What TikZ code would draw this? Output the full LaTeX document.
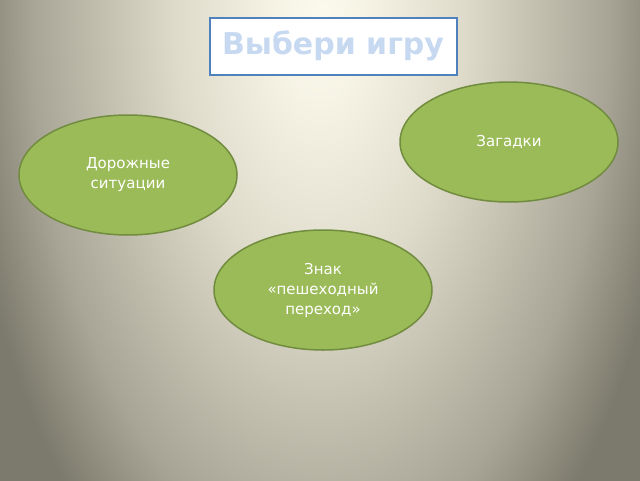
\documentclass[tikz,border=0pt]{standalone}
\usepackage{fontspec}
\setmainfont{DejaVu Sans}
\usetikzlibrary{shapes.geometric}
\definecolor{bglight}{RGB}{252, 250, 236}
\definecolor{bgpale}{RGB}{222, 219, 203}
\definecolor{bgmid}{RGB}{168, 165, 150}
\definecolor{bgdark}{RGB}{124, 122, 108}
\definecolor{gamegreen}{RGB}{155, 187, 89}
\definecolor{gameborder}{RGB}{113, 140, 62}
\definecolor{titleblue}{RGB}{79, 129, 189}
\definecolor{titletext}{RGB}{198, 217, 241}
\pgfdeclareradialshading{bgshade}{\pgfpoint{0bp}{0bp}}{color(0bp)=(bglight); color(3bp)=(bglight!80!bgpale); color(10bp)=(bgpale); color(20bp)=(bgmid); color(25bp)=(bgdark); color(50bp)=(bgdark)}

\begin{document}
\begin{tikzpicture}[x=1pt, y=-1pt,
    game/.style={ellipse, draw=gameborder, line width=1.5pt, fill=gamegreen,
        minimum width=218pt, minimum height=120pt, text=white,
        font=\fontsize{15}{20}\selectfont, align=center, inner sep=0pt},
    title/.style={draw=titleblue, line width=2pt, fill=white, text=titletext,
        font=\fontsize{30}{32}\selectfont\bfseries, minimum width=247pt,
        minimum height=57pt, inner sep=0pt}]
            % Background
            \useasboundingbox (0,0) rectangle (640,480);
            \begin{scope}
                \clip (-4,-4) rectangle (644,484);
                \fill[bgdark] (-4,-4) rectangle (644,484);
                \shade[shading=bgshade] (320,20) ellipse (360 and 660);
            \end{scope}

            % Title
            \node[title] (choose) at (333,46) {Выбери игру};

            % Games
            \node[game] (riddles) at (509,142) {Загадки};
            \node[game] (road) at (128,175) {Дорожные\\ситуации};
            \node[game] (sign) at (323,290) {Знак\\«пешеходный\\переход»};
        \end{tikzpicture}
\end{document}
